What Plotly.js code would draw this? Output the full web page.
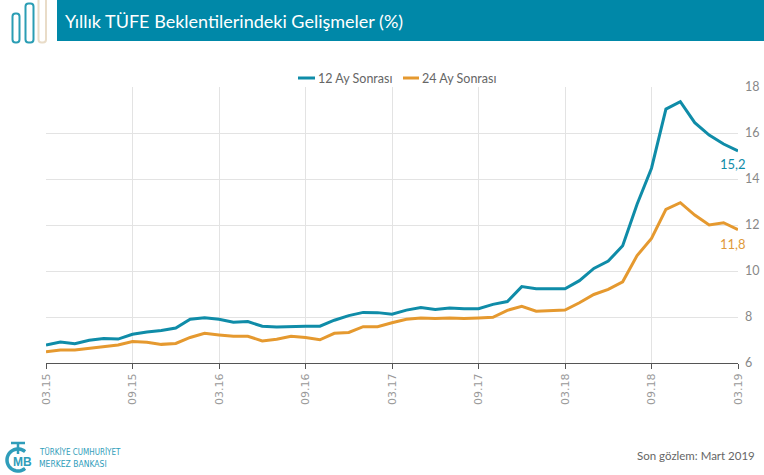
<!DOCTYPE html>
<html>
<head>
<meta charset="utf-8">
<script src="https://cdn.plot.ly/plotly-3.0.1.min.js"></script>
<style>
html,body{margin:0;padding:0;background:#fff;}
#chart{width:764px;height:475px;}
</style>
</head>
<body>
<div id="chart"></div>
<script>
// ---- data ----
const months = [
  "03.15","04.15","05.15","06.15","07.15","08.15","09.15","10.15","11.15","12.15",
  "01.16","02.16","03.16","04.16","05.16","06.16","07.16","08.16","09.16","10.16","11.16","12.16",
  "01.17","02.17","03.17","04.17","05.17","06.17","07.17","08.17","09.17","10.17","11.17","12.17",
  "01.18","02.18","03.18","04.18","05.18","06.18","07.18","08.18","09.18","10.18","11.18","12.18",
  "01.19","02.19","03.19"
];
const ay12 = [
  6.78,6.91,6.84,6.99,7.06,7.04,7.25,7.35,7.41,7.52,
  7.90,7.97,7.90,7.77,7.80,7.60,7.57,7.60,7.60,7.60,7.86,8.06,
  8.20,8.19,8.12,8.30,8.41,8.33,8.39,8.36,8.36,8.55,8.67,9.32,
  9.23,9.23,9.23,9.58,10.11,10.43,11.10,12.90,14.47,17.04,17.36,16.45,
  15.91,15.52,15.22
];
const ay24 = [
  6.49,6.57,6.57,6.65,6.70,6.78,6.93,6.90,6.81,6.85,
  7.11,7.29,7.22,7.16,7.16,6.96,7.03,7.16,7.11,7.01,7.29,7.33,
  7.58,7.58,7.75,7.90,7.96,7.93,7.96,7.93,7.96,7.99,8.29,8.46,
  8.25,8.28,8.30,8.62,8.98,9.20,9.53,10.67,11.42,12.68,12.97,12.43,
  12.00,12.10,11.80
];
const tickLabels = ["03.15","09.15","03.16","09.16","03.17","09.17","03.18","09.18","03.19"];
const seriesNames = ["12 Ay Sonrası","24 Ay Sonrası"];
const endLabels = ["15,2","11,8"];
const yTicks = [6,8,10,12,14,16,18];

// ---- styling ----
const TEAL = "#0F8CA8";
const ORANGE = "#E5992F";
const W = 764, H = 475;
const L = 46, R = 738, T = 87, B = 363;
const px = x => (x - L) / (R - L);
const py = y => (B - y) / (B - T);

function roundedBar(x0, y0, x1, y1, r) {
  const X0 = px(x0), X1 = px(x1), Y0 = py(y0), Y1 = py(y1);
  const rx = r / (R - L), ry = r / (B - T);
  return `M ${X0} ${Y1 + ry} L ${X0} ${Y0 - ry} Q ${X0} ${Y0} ${X0 + rx} ${Y0} ` +
         `L ${X1 - rx} ${Y0} Q ${X1} ${Y0} ${X1} ${Y0 - ry} L ${X1} ${Y1 + ry} ` +
         `Q ${X1} ${Y1} ${X1 - rx} ${Y1} L ${X0 + rx} ${Y1} Q ${X0} ${Y1} ${X0} ${Y1 + ry} Z`;
}
// logo arc (decoration)
function arcPath(cx, cy, r, a0, a1, n) {
  let s = "";
  for (let i = 0; i <= n; i++) {
    const a = (a0 + (a1 - a0) * i / n) * Math.PI / 180;
    const x = px(cx + r * Math.cos(a)), y = py(cy - r * Math.sin(a));
    s += (i === 0 ? "M " : " L ") + x + " " + y;
  }
  return s;
}

const last = months.length - 1;
const traces = [
  {x: months, y: ay12, name: seriesNames[0], type: "scatter", mode: "lines",
   line: {color: TEAL, width: 3}, showlegend: false},
  {x: months, y: ay24, name: seriesNames[1], type: "scatter", mode: "lines",
   line: {color: ORANGE, width: 3}, showlegend: false}
];

const shapes = [
  // title banner
  {type: "rect", xref: "paper", yref: "paper", x0: px(57), x1: px(764), y0: py(41), y1: py(0),
   fillcolor: "#0088A8", line: {width: 0}, layer: "above"},
  // icon bars
  {type: "path", xref: "paper", yref: "paper", path: roundedBar(12.5, 13.5, 19.5, 42.5, 3),
   line: {color: "#2A9DB4", width: 2}},
  {type: "path", xref: "paper", yref: "paper", path: roundedBar(25.5, 3.5, 33.5, 42.5, 3),
   line: {color: "#2A9DB4", width: 2}},
  {type: "path", xref: "paper", yref: "paper", path: roundedBar(38.5, -3, 46, 42.5, 3),
   line: {color: "#E9DCC8", width: 2}},
  // legend line samples
  {type: "line", xref: "paper", yref: "paper", x0: px(298), x1: px(315), y0: py(78), y1: py(78),
   line: {color: TEAL, width: 3}},
  {type: "line", xref: "paper", yref: "paper", x0: px(403), x1: px(419), y0: py(78), y1: py(78),
   line: {color: ORANGE, width: 3}},
  // logo
  {type: "path", xref: "paper", yref: "paper", path: arcPath(18, 460, 11, 50, 310, 30),
   line: {color: "#2F9DBA", width: 3.5}},
  {type: "path", xref: "paper", yref: "paper",
   path: `M ${px(11)} ${py(443)} L ${px(25)} ${py(443)} M ${px(18)} ${py(443)} L ${px(18)} ${py(454)}`,
   line: {color: "#2F9DBA", width: 2.5}}
];

const annotations = [
  {text: "Yıllık TÜFE Beklentilerindeki Gelişmeler (%)", xref: "paper", yref: "paper",
   x: px(63), y: py(21), xanchor: "left", yanchor: "middle", showarrow: false,
   font: {family: "Lato, sans-serif", size: 18, color: "#ffffff"}},
  {text: seriesNames[0], xref: "paper", yref: "paper", x: px(316), y: py(78),
   xanchor: "left", yanchor: "middle", showarrow: false,
   font: {family: "Lato, sans-serif", size: 12.5, color: "#666"}},
  {text: seriesNames[1], xref: "paper", yref: "paper", x: px(420), y: py(78),
   xanchor: "left", yanchor: "middle", showarrow: false,
   font: {family: "Lato, sans-serif", size: 12.5, color: "#666"}},
  {text: endLabels[0], x: last, y: ay12[last], xref: "x", yref: "y",
   xanchor: "right", yanchor: "top", yshift: -3, xshift: 10, showarrow: false,
   font: {family: "Lato, sans-serif", size: 13, color: TEAL}},
  {text: endLabels[1], x: last, y: ay24[last], xref: "x", yref: "y",
   xanchor: "right", yanchor: "top", yshift: -4, xshift: 10, showarrow: false,
   font: {family: "Lato, sans-serif", size: 13, color: "#E09A3A"}},
  {text: "Son gözlem: Mart 2019", xref: "paper", yref: "paper", x: px(757), y: py(455),
   xanchor: "right", yanchor: "middle", showarrow: false,
   font: {family: "Lato, sans-serif", size: 11.5, color: "#666"}},
  {text: "<b>MB</b>", xref: "paper", yref: "paper", x: px(22), y: py(462),
   xanchor: "center", yanchor: "middle", showarrow: false,
   font: {family: "Liberation Sans Narrow, Arial Narrow, sans-serif", size: 12, color: "#2F9DBA"}},
  {text: "TÜRKİYE CUMHURİYET", xref: "paper", yref: "paper", x: px(37), y: py(452),
   xanchor: "left", yanchor: "middle", showarrow: false,
   font: {family: "DejaVu Sans Condensed, Liberation Sans Narrow, sans-serif", size: 8, color: "#2F9DBA"}},
  {text: "MERKEZ BANKASI", xref: "paper", yref: "paper", x: px(37), y: py(464),
   xanchor: "left", yanchor: "middle", showarrow: false,
   font: {family: "DejaVu Sans Condensed, Liberation Sans Narrow, sans-serif", size: 8.5, color: "#2F9DBA"}}
];

const layout = {
  width: W, height: H,
  margin: {l: L, r: W - R, t: T, b: H - B, pad: 0},
  paper_bgcolor: "#fff", plot_bgcolor: "#fff",
  showlegend: false,
  xaxis: {type: "category", range: [0, last],
          tickmode: "array", tickvals: tickLabels, ticktext: tickLabels,
          tickangle: -90, ticks: "outside", ticklen: 5, tickcolor: "#555",
          showline: true, linecolor: "#555", linewidth: 1,
          showgrid: true, gridcolor: "#e3e3e3", gridwidth: 1,
          tickfont: {family: "DejaVu Sans, sans-serif", size: 11, color: "#999"},
          zeroline: false, fixedrange: true},
  yaxis: {side: "right", range: [6, 18], tickvals: yTicks,
          showgrid: true, gridcolor: "#e3e3e3", gridwidth: 1,
          ticks: "", showline: false, zeroline: false,
          tickfont: {family: "Lato, sans-serif", size: 12.5, color: "#888"},
          ticklabelstandoff: 6, fixedrange: true},
  shapes: shapes,
  annotations: annotations
};

Plotly.newPlot("chart", traces, layout, {displayModeBar: false, staticPlot: true});
</script>
</body>
</html>
